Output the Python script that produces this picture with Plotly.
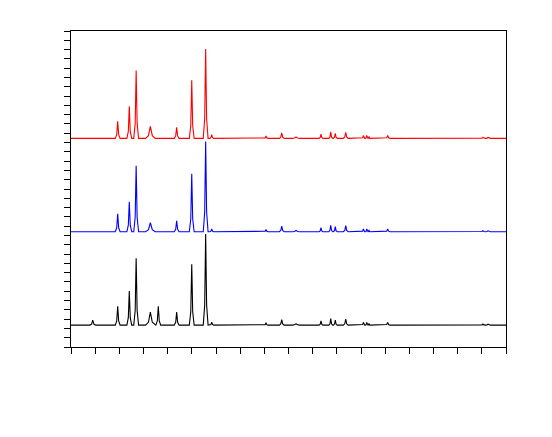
import plotly.graph_objects as go

# Peak positions (2θ, degrees)
peak_pos = [7.25, 9.83, 11.03, 11.74, 13.21, 14.03, 15.93, 17.49, 18.93, 19.56,
            25.17, 26.80, 28.28, 30.86, 31.87, 32.34, 33.42, 35.24, 35.59, 35.83,
            37.76, 41.10, 47.62, 48.14]
# Apparent peak half-widths (degrees)
peak_width = [0.12, 0.10, 0.10, 0.10, 0.20, 0.10, 0.10, 0.10, 0.10, 0.08,
              0.08, 0.10, 0.15, 0.08, 0.08, 0.08, 0.10, 0.06, 0.05, 0.04,
              0.10, 0.20, 0.10, 0.10]
# Peak heights above baseline (a.u.) for each sample
heights_black = [0.54, 2.04, 3.66, 7.20, 1.40, 2.04, 1.40, 6.56, 9.80, 0.32,
                 0.25, 0.60, 0.15, 0.45, 0.70, 0.55, 0.65, 0.30, 0.30, 0.20,
                 0.30, 0.08, 0.12, 0.10]
heights_blue = [0.00, 1.94, 3.23, 7.10, 0.97, 0.00, 1.18, 6.24, 9.70, 0.30,
                0.25, 0.60, 0.15, 0.45, 0.70, 0.55, 0.65, 0.30, 0.30, 0.20,
                0.30, 0.08, 0.12, 0.10]
heights_red = [0.00, 1.83, 3.44, 7.30, 1.29, 0.00, 1.18, 6.24, 9.60, 0.40,
               0.25, 0.60, 0.15, 0.45, 0.70, 0.55, 0.65, 0.30, 0.30, 0.20,
               0.30, 0.08, 0.12, 0.10]
series_names = ["Sample 1", "Sample 2", "Sample 3"]
series_heights = [heights_black, heights_blue, heights_red]
series_colors = ["#000000", "#0000ff", "#ff0000"]
series_offsets = [2.35, 12.40, 22.45]
x_start, x_end = 5, 50


def polyline(heights, offset):
    xs, ys = [x_start], [offset]
    for p, w, h in zip(peak_pos, peak_width, heights):
        if h <= 0:
            continue
        xs += [p - 2.5 * w, p - w, p, p + w, p + 2.5 * w]
        ys += [offset, offset + 0.22 * h, offset + h, offset + 0.22 * h, offset]
    xs.append(x_end)
    ys.append(offset)
    return xs, ys


fig = go.Figure()
for name, hts, col, off in zip(series_names, series_heights, series_colors, series_offsets):
    xs, ys = polyline(hts, off)
    fig.add_trace(go.Scatter(x=xs, y=ys, mode="lines", name=name,
                             line=dict(color=col, width=1.1)))

fig.update_layout(
    width=552, height=437,
    margin=dict(l=63, r=54, t=23, b=98),
    paper_bgcolor="white", plot_bgcolor="white",
    showlegend=False,
)
fig.update_xaxes(range=[x_start, x_end], dtick=2.5, tick0=5, ticks="outside", ticklen=6,
                 tickcolor="black", showline=True, linecolor="black", linewidth=1,
                 mirror=True, showgrid=False, zeroline=False, showticklabels=False)
fig.update_yaxes(range=[0, 34], dtick=1, tick0=0, ticks="outside", ticklen=6,
                 tickcolor="black", showline=True, linecolor="black", linewidth=1,
                 mirror=True, showgrid=False, zeroline=False, showticklabels=False)

fig.write_html("out.html")
